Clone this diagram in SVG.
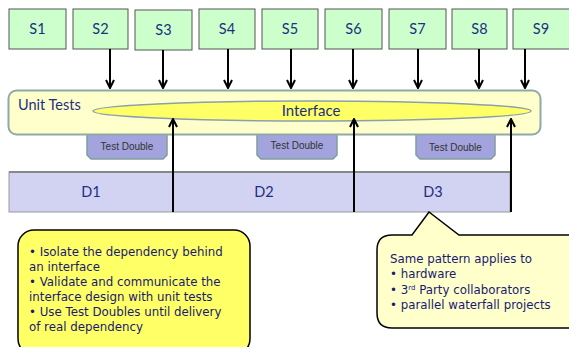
<svg xmlns="http://www.w3.org/2000/svg" width="569" height="347" viewBox="0 0 569 347">
  <style>
    .svc rect { fill: #CCFFCC; stroke: #555555; stroke-width: 1; }
    .svc text { font-family: Lato, "Open Sans", sans-serif; font-size: 14.5px; fill: #1F2F80; text-anchor: middle; }
    .td path { fill: #A3A3DD; stroke: #7F9F9F; stroke-width: 1.5; }
    .td text { font-family: "Liberation Sans", Arial, sans-serif; font-size: 10px; fill: #333333; text-anchor: middle; }
    .dep text { font-family: Lato, "Open Sans", sans-serif; font-size: 14.5px; fill: #1F2F80; text-anchor: middle; }
    .note text { font-family: "DejaVu Sans", sans-serif; font-size: 11.8px; fill: #1A1A6E; }
    .conn line { stroke: #000000; stroke-width: 2; fill: none; }
  </style>
  <defs>
    <marker id="arrow" viewBox="0 0 10 10" refX="9" refY="5" markerWidth="5" markerHeight="5" orient="auto" markerUnits="strokeWidth">
      <path d="M1,1 L9,5 L1,9" fill="none" stroke="#000000" stroke-width="2"/>
    </marker>
  </defs>

  <rect x="0" y="0" width="569" height="347" fill="#FFFFFF"/>

  <!-- services -->
  <g id="s1" class="svc"><rect x="9" y="9" width="57" height="40"/><text x="37.5" y="34">S1</text></g>
  <g id="s2" class="svc"><rect x="73" y="9" width="55" height="40"/><text x="100.5" y="34">S2</text></g>
  <g id="s3" class="svc"><rect x="135" y="10" width="57" height="40"/><text x="163.5" y="35">S3</text></g>
  <g id="s4" class="svc"><rect x="199" y="9" width="56" height="40"/><text x="227" y="34">S4</text></g>
  <g id="s5" class="svc"><rect x="262" y="9" width="56" height="40"/><text x="290" y="34">S5</text></g>
  <g id="s6" class="svc"><rect x="325" y="9" width="57" height="40"/><text x="353.5" y="34">S6</text></g>
  <g id="s7" class="svc"><rect x="389" y="9" width="57" height="40"/><text x="417.5" y="34">S7</text></g>
  <g id="s8" class="svc"><rect x="452" y="9" width="55" height="40"/><text x="479.5" y="34">S8</text></g>
  <g id="s9" class="svc"><rect x="513" y="9" width="60" height="40"/><text x="541" y="34">S9</text></g>

  <!-- test doubles (drawn under the unit test band) -->
  <g id="td1" class="td"><path d="M87,130 H167 V155 L163,159 H91 L87,155 Z"/><text x="127" y="150">Test Double</text></g>
  <g id="td2" class="td"><path d="M257,130 H337 V155 L333,159 H261 L257,155 Z"/><text x="297" y="149">Test Double</text></g>
  <g id="td3" class="td"><path d="M416,130 H495 V155 L491,159 H420 L416,155 Z"/><text x="455.5" y="151">Test Double</text></g>

  <!-- unit tests band with interface -->
  <g id="unit-tests">
    <rect x="8.5" y="90.5" width="532" height="44" rx="8" fill="#FFFFCC" stroke="#8FA8A8" stroke-width="2"/>
    <text x="18" y="110" font-family="Lato, 'Open Sans', sans-serif" font-size="14.5" fill="#1F2F80">Unit Tests</text>
  </g>
  <g id="interface">
    <ellipse cx="312" cy="111" rx="219" ry="10" fill="#FFFF66" stroke="#8AA0B0" stroke-width="1.5"/>
    <text x="311" y="116" font-family="Lato, 'Open Sans', sans-serif" font-size="15" fill="#1F2F80" text-anchor="middle">Interface</text>
  </g>

  <!-- dependencies -->
  <g id="deps" class="dep">
    <rect x="9" y="172" width="501" height="40" fill="#D2D2F2" stroke="#999999" stroke-width="1"/>
    <line x1="9" y1="172" x2="510" y2="172" stroke="#888888" stroke-width="2"/>
    <text x="91" y="197">D1</text>
    <text x="264" y="197">D2</text>
    <text x="433" y="197">D3</text>
  </g>

  <!-- connectors -->
  <g id="connectors" class="conn">
    <line x1="110" y1="49" x2="110" y2="88" marker-end="url(#arrow)"/>
    <line x1="163" y1="50" x2="163" y2="88" marker-end="url(#arrow)"/>
    <line x1="228" y1="49" x2="228" y2="88" marker-end="url(#arrow)"/>
    <line x1="291" y1="49" x2="291" y2="88" marker-end="url(#arrow)"/>
    <line x1="353" y1="49" x2="353" y2="88" marker-end="url(#arrow)"/>
    <line x1="418" y1="49" x2="418" y2="88" marker-end="url(#arrow)"/>
    <line x1="479" y1="49" x2="479" y2="88" marker-end="url(#arrow)"/>
    <line x1="525" y1="49" x2="525" y2="88" marker-end="url(#arrow)"/>
    <line x1="173" y1="212" x2="173" y2="119" marker-end="url(#arrow)"/>
    <line x1="354" y1="212" x2="354" y2="119" marker-end="url(#arrow)"/>
    <line x1="511" y1="212" x2="511" y2="119" marker-end="url(#arrow)"/>
  </g>

  <!-- notes -->
  <g id="note-left" class="note">
    <rect x="18" y="230" width="232" height="125" rx="16" fill="#FFFF66" stroke="#000000" stroke-width="1.5"/>
    <text x="29" y="256">• Isolate the dependency behind</text>
    <text x="29" y="271">an interface</text>
    <text x="29" y="286">• Validate and communicate the</text>
    <text x="29" y="301">interface design with unit tests</text>
    <text x="29" y="316">• Use Test Doubles until  delivery</text>
    <text x="29" y="331">of real dependency</text>
  </g>
  <g id="note-right" class="note">
    <path d="M392,235 H412 L429,212 L459,235 H580 V328 H392 Q377,328 377,313 V250 Q377,235 392,235 Z" fill="#FFFFCC" stroke="#000000" stroke-width="1.5"/>
    <text x="390" y="263">Same pattern applies to</text>
    <text x="390" y="278">• hardware</text>
    <text x="390" y="294">• 3<tspan font-size="7" dy="-4">rd</tspan><tspan dy="4"> Party collaborators</tspan></text>
    <text x="390" y="309">• parallel waterfall projects</text>
  </g>
</svg>
